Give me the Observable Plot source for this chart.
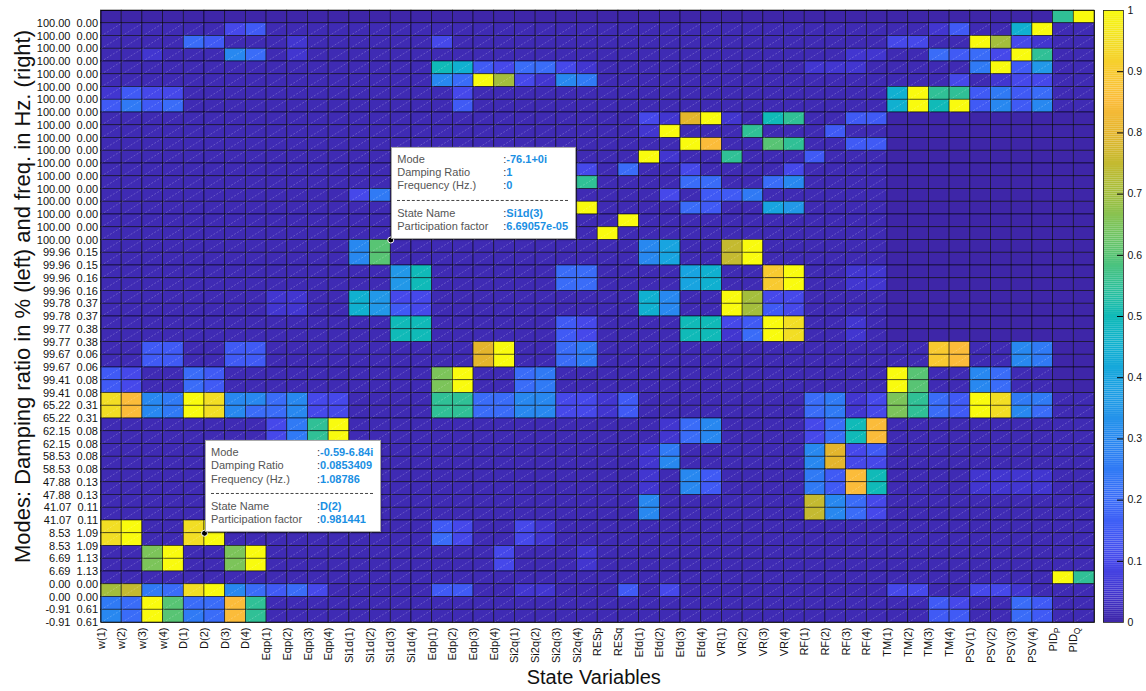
<!DOCTYPE html>
<html><head><meta charset="utf-8">
<script src="https://cdn.jsdelivr.net/npm/d3@7"></script>
<script src="https://cdn.jsdelivr.net/npm/@observablehq/plot@0.6"></script>
<style>
body{margin:0;background:#fff;font-family:"Liberation Sans",Arial,sans-serif;}
#wrap{position:relative;width:1146px;height:691px;overflow:hidden;background:#fff;}
#wrap svg{position:absolute;}
.tip{position:absolute;background:#fff;border:1px solid #a8a8a8;box-shadow:1px 1px 2px rgba(0,0,0,0.25);font-family:"Liberation Sans",Arial,sans-serif;font-size:11px;line-height:13.4px;padding:5px 7px 4px 5px;color:#555;white-space:nowrap;transform:translateY(-100%);}
.tip .row{display:flex}
.tip .k{width:106px}
.tip .c{color:#333}
.tip .v{color:#1a8fe3;font-weight:bold}
.tip .sep{border-top:1px dashed #444;margin:7px 0 6px 0}
</style></head><body><div id="wrap"></div>
<script>
// ---- data ----
const stateNames = ["w(1)","w(2)","w(3)","w(4)","D(1)","D(2)","D(3)","D(4)",
  "Eqp(1)","Eqp(2)","Eqp(3)","Eqp(4)","Si1d(1)","Si1d(2)","Si1d(3)","Si1d(4)",
  "Edp(1)","Edp(2)","Edp(3)","Edp(4)","Si2q(1)","Si2q(2)","Si2q(3)","Si2q(4)",
  "RESp","RESq","Efd(1)","Efd(2)","Efd(3)","Efd(4)","VR(1)","VR(2)","VR(3)","VR(4)",
  "RF(1)","RF(2)","RF(3)","RF(4)","TM(1)","TM(2)","TM(3)","TM(4)",
  "PSV(1)","PSV(2)","PSV(3)","PSV(4)","PID_P","PID_Q"];

const dampingPct = [100,100,100,100,100,100,100,100,100,100,100,100,100,100,100,100,100,100,
  99.96,99.96,99.96,99.96,99.78,99.78,99.77,99.77,99.67,99.67,99.41,99.41,
  65.22,65.22,62.15,62.15,58.53,58.53,47.88,47.88,41.07,41.07,8.53,8.53,6.69,6.69,0,0,-0.91,-0.91];
const freqHz = [0,0,0,0,0,0,0,0,0,0,0,0,0,0,0,0,0,0,
  0.15,0.15,0.16,0.16,0.37,0.37,0.38,0.38,0.06,0.06,0.08,0.08,
  0.31,0.31,0.08,0.08,0.08,0.08,0.13,0.13,0.11,0.11,1.09,1.09,1.13,1.13,0,0,0.61,0.61];

// participation factor, one character per state (top row first)
const codeValue = {"0":0, ".":0.015, "1":0.05, "2":0.10, "3":0.15, "4":0.20, "5":0.25, "6":0.30,
  "7":0.35, "8":0.40, "9":0.45, "A":0.50, "B":0.55, "C":0.60, "D":0.65, "E":0.70, "F":0.75,
  "G":0.80, "H":0.85, "I":0.90, "J":0.95, "K":1.00};
const participation = [
  "0000 0000 0000 0000 0000 0000 0000 0000 0000 0000 0000 00BK",
  ".... ..23 .... .... .... .... .... .... .... .... 13.. 9K..",
  ".... 43.. .1.. .... 2... .... .... .... .... ..22 ..KE 21..",
  "..1. ..64 .1.. .... .... .... .... .... .... 11.. 4342 KB..",
  ".... .... .... .... A932 4421 .... .... ..11 1... ..5K 37..",
  ".... .... .... .... 64KE 2165 .... .... .... .... .2.1 22..",
  "1322 .... .... .... .2.. .... .... .... .... ..9K BB35 34..",
  "3534 .... .... .... .3.. .... .... .... .... ..9K AK36 36..",
  ".... .... .... .... .... .... ..21 GK1. AB.. 3300 0000 0000",
  ".... .... .... .... .... .... ..1K ...B ...3 ..00 0000 0000",
  ".... .... .... .... .... .... .... KH.. CB.. 3300 0000 0000",
  ".... .... .... .... .... .... ..K1 ..B. ..3. ..00 0000 0000",
  ".... .... .... .... .... ..12 .4.. 2... .2.. ..00 0000 0000",
  ".... .... .... .... .... 1..B .... 44.. 46.. ..00 0000 0000",
  ".... .... .... 25.. .... ..2. ...2 .335 .... ..00 0000 0000",
  ".... .... .... .... .... ...K .... 43.. 87.. ..00 0000 0000",
  ".... .... .... .... .... .... .K.. .... .... ..00 0000 0000",
  ".... .... .... .... .... .... K... .... .... ..00 0000 0000",
  ".... .... .... 6C.. .... .... ..68 ..FK .... ..00 0000 0000",
  ".... .... .... 6C.. .... .... ..68 ..FK .... ..00 0000 0000",
  ".... .... .... ..7A .... ..44 .... 89.. IK.. 1100 0000 0000",
  ".... .... .... ..7A .... ..44 .... 89.. IK.. 1100 0000 0000",
  ".... .... 11.. 9722 .... .... ..96 ..KE 22.. ..00 0000 0000",
  ".... .... 11.. 9732 .... .... ..96 ..KE 32.. ..00 0000 0000",
  ".... .... .... ..AA .... ..32 .... AA23 KJ.. 1.00 0000 0000",
  ".... .... .... ..AA .... ..32 .... AA14 KJ.. 1.00 0000 0000",
  "..33 ..33 .... .... ..GK ..45 .... .... .... .... IH.. 6500",
  "..33 ..33 .... .... ..GK ..45 .... .... .... .... IH.. 6500",
  "32.. 43.. .... .... DK.. 45.. .... .... .... ..KC ..64 ..00",
  "32.. 43.. .... .... DK.. 45.. .... .... .... ..KC ..64 ..00",
  "JH65 KJ66 4622 .... BB44 6622 13.. .... ..45 12DB 43KJ 55..",
  "JH65 KJ64 4622 .... BB44 6622 13.. .... ..45 12DB 43KJ 64..",
  ".... .... 25BK .... .... .... ...1 46.. ..24 AH.. .... ....",
  ".... .... 25BK .... .... .... ...1 46.. ..24 AH.. .... ....",
  ".... .... .... .... .... .... ..15 .... ..6G 23.. .... ....",
  ".... .... .... .... .... .... ..16 .... ..6G 22.. .... ....",
  ".... .... .... .... .... .... ..1. 63.. ..53 HA.. ..11 11..",
  ".... .... .... .... .... .... ..1. 63.. ..53 HA.. ..11 11..",
  ".... .... .... .... .... .... ..6. .... ..F6 42.. .... ....",
  ".... .... .... .... .... .... ..6. .... ..F6 42.. .... ....",
  "JK.. JK.. .... .... 32.. 21.. .... .... .... .... .... ....",
  "JK.. JK.. .... .... 42.. 21.. .... .... .... .... .... ....",
  "..DK ..DK .... .... ...2 ...1 .... .... .... .... .... ....",
  "..DK ..DK .... .... ...2 ...1 .... .... .... .... .... ....",
  ".... .... .... .... .... .... .... .... .... .... .... ..KB",
  "EF54 JK64 342. .... 33.. 11.. .3.2 .... .... ..22 ..22 1...",
  "54KC 44HB .... .... .... .... .... .... .... .... 32.. 43..",
  "64KC 54HB .... .... .... .... .... .... .... .... 33.. 43.."
];

const colorbarTicks = [0, 0.1, 0.2, 0.3, 0.4, 0.5, 0.6, 0.7, 0.8, 0.9, 1];

// data tips shown on the figure
const tips = [
  {state: "Si1d(3)", row: 17, mode: "-76.1+0i", damping: " 1", freq: " 0", pf: " 6.69057e-05"},
  {state: "D(2)", row: 40, mode: "-0.59-6.84i", damping: " 0.0853409", freq: "1.08786", pf: " 0.981441"}
];

// parula-like colormap stops (0 .. 1 in steps of 0.05)
const parulaStops = ["#3E26A8","#4236D0","#4648EA","#405AF5","#3A6CF8","#307AF5","#2888F0",
  "#2298E8","#18A4E0","#10B0D0","#10BAB8","#30C096","#58C474","#7CC45A","#A4BE3C","#C4BA30",
  "#E4B52C","#FBBC3A","#F8CA30","#F2DE24","#F9FB0E"];

// ---- build ----
const nCols = stateNames.length, nRows = dampingPct.length;
const rowLabels = dampingPct.map((d, i) => d.toFixed(2) + "\u00A0\u00A0" + freqHz[i].toFixed(2));
const cells = [];
participation.forEach((row, r) => {
  const s = row.replace(/ /g, "");
  for (let c = 0; c < nCols; c++) cells.push({r, c, v: codeValue[s[c]]});
});
const parula = d3.piecewise(d3.interpolateRgb, parulaStops);
const font = "Liberation Sans, Arial, sans-serif";

const plot = Plot.plot({
  width: 1146, height: 691,
  marginLeft: 100.5, marginRight: 52, marginTop: 10, marginBottom: 69,
  style: {fontFamily: font, fontSize: "11px", background: "transparent", color: "#111"},
  x: {type: "linear", domain: [1, nCols + 1]},
  y: {type: "linear", domain: [1, nRows + 1]},
  color: {type: "linear", domain: [0, 1], interpolate: parula},
  marks: [
    Plot.rect(cells, {x1: d => d.c + 1, x2: d => d.c + 2, y1: d => nRows - d.r, y2: d => nRows - d.r + 1,
      fill: "v", stroke: "black", strokeWidth: 0.7, strokeOpacity: 0.75}),
    Plot.link(cells.filter(d => d.r > 0 && d.v > 0), {x1: d => d.c + 1, y1: d => nRows - d.r,
      x2: d => d.c + 2, y2: d => nRows - d.r + 1, stroke: "white", strokeOpacity: 0.3,
      strokeWidth: 0.7, strokeDasharray: "2,1.5"}),
    Plot.frame({stroke: "black", strokeWidth: 0.8}),
    Plot.axisX({ticks: d3.range(1, nCols + 1), tickFormat: x => stateNames[x - 1], tickRotate: -90,
      tickSize: 0, tickPadding: 5, fontSize: 11, label: null}),
    Plot.axisY({ticks: d3.range(1, nRows + 1), tickFormat: y => rowLabels[nRows - y],
      tickSize: 0, tickPadding: 3, fontSize: 11, label: null}),
    Plot.dot(tips, {x: d => stateNames.indexOf(d.state) + 1, y: d => nRows - d.row, r: 3,
      fill: "black", stroke: "white", strokeWidth: 1}),
    Plot.text(["Modes: Damping ratio in % (left) and freq. in Hz. (right)"], {text: d => d,
      frameAnchor: "left", textAnchor: "middle", lineAnchor: "middle", dx: -78, dy: -20,
      rotate: -90, fontSize: 22, fill: "#111"}),
    Plot.text(["State Variables"], {text: d => d, frameAnchor: "bottom", textAnchor: "middle",
      lineAnchor: "middle", dy: 55, dx: -4, fontSize: 20, fill: "#111"})
  ]
});
plot.style.left = "0px"; plot.style.top = "0px";

// subscripts for PID_P / PID_Q
d3.select(plot).selectAll("text").each(function () {
  const t = this.textContent;
  if (t === "PID_P" || t === "PID_Q") {
    const el = d3.select(this);
    el.text("");
    el.append("tspan").text("PID");
    el.append("tspan").attr("dy", "3").attr("font-size", "8.5").text(t.slice(4));
  }
});

const wrap = document.getElementById("wrap");
wrap.appendChild(plot);

// colorbar
const bands = d3.range(300).map(i => ({y1: i / 300, y2: (i + 1) / 300, v: (i + 0.5) / 300}));
const cb = Plot.plot({
  width: 60, height: 691, marginLeft: 17, marginRight: 23, marginTop: 10, marginBottom: 69,
  style: {fontFamily: font, fontSize: "10.5px", background: "transparent", color: "#111"},
  x: {axis: null},
  y: {domain: [0, 1]},
  color: {type: "linear", domain: [0, 1], interpolate: parula},
  marks: [
    Plot.rect(bands, {y1: "y1", y2: "y2", fill: "v"}),
    Plot.ruleY(colorbarTicks.slice(1, -1), {insetLeft: 14, stroke: "black", strokeWidth: 1}),
    Plot.frame({stroke: "#222", strokeWidth: 0.8}),
    Plot.axisY({anchor: "right", ticks: colorbarTicks, tickFormat: d => String(d), tickSize: 0,
      tickPadding: 4, label: null})
  ]
});
cb.style.left = "1086px"; cb.style.top = "0px";
wrap.appendChild(cb);

// data tip boxes
const sx = plot.scale("x"), sy = plot.scale("y");
tips.forEach(t => {
  const px = sx.apply(stateNames.indexOf(t.state) + 1);
  const py = sy.apply(nRows - t.row);
  const div = document.createElement("div");
  div.className = "tip";
  div.style.left = (px + 1) + "px";
  div.style.top = (py - 1) + "px";
  const line = (k, v) => `<div class="row"><span class="k">${k}</span><span class="c">:</span><span class="v">${v}</span></div>`;
  div.innerHTML = line("Mode", t.mode) + line("Damping Ratio", t.damping) + line("Frequency (Hz.)", t.freq)
    + `<div class="sep"></div>` + line("State Name", t.state) + line("Participation factor", t.pf);
  wrap.appendChild(div);
});
</script></body></html>
